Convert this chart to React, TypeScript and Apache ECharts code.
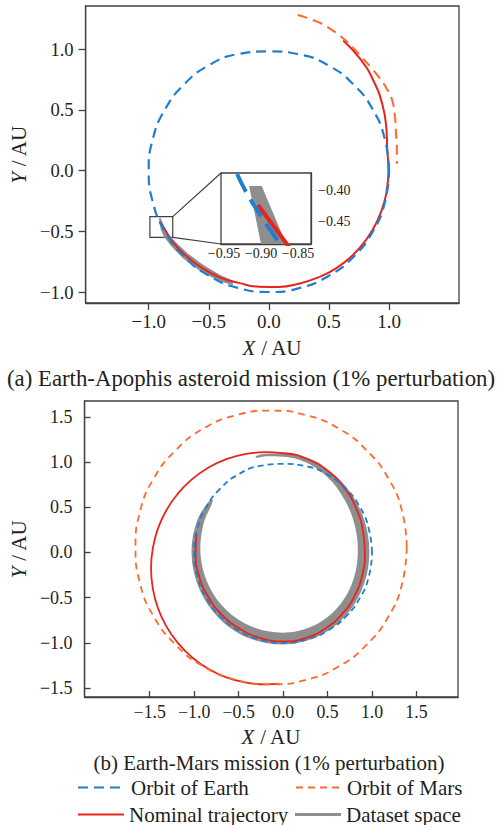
import React, { useEffect, useRef } from 'react';
import * as echarts from 'echarts';

const FONT = 'Liberation Serif, Times New Roman, serif';
const INK = '#231f20';
const FRAME = '#404040';
const BLUE = '#1f7fce';
const ORANGE = '#ff6a2a';
const RED = '#e8241c';
const GRAY = '#8e8e8e';

// Heliocentric positions in AU, counter-clockwise
const EARTH_ORBIT = [
  [1.0, 0.0], [0.965, 0.258], [0.866, 0.5], [0.707, 0.705], [0.5, 0.862], [0.258, 0.955],
  [0.0, 0.98], [-0.258, 0.958], [-0.5, 0.866], [-0.707, 0.707], [-0.866, 0.5], [-0.966, 0.259],
  [-1.0, 0.0], [-0.966, -0.259], [-0.866, -0.5], [-0.707, -0.707], [-0.5, -0.866], [-0.259, -0.966],
  [0.0, -1.0], [0.259, -0.966], [0.5, -0.866], [0.707, -0.707], [0.866, -0.5], [0.966, -0.259], [1.0, 0.0],
];

const APOPHIS_ARC = [
  [0.24, 1.28], [0.4, 1.225], [0.52, 1.16], [0.625, 1.083], [0.71, 1.0], [0.778, 0.927],
  [0.849, 0.849], [0.915, 0.768], [0.975, 0.683], [1.022, 0.59], [1.049, 0.445], [1.058, 0.3],
  [1.065, 0.169], [1.066, 0.056],
];

const NOMINAL_A = [
  [-0.904, -0.4226], [-0.865, -0.4855], [-0.8, -0.59], [-0.696, -0.696], [-0.56, -0.8], [-0.41, -0.879],
  [-0.25, -0.925], [-0.084, -0.956], [0.08, -0.958], [0.25, -0.932], [0.41, -0.88], [0.562, -0.803],
  [0.7, -0.695], [0.811, -0.568], [0.9, -0.42], [0.961, -0.258], [0.99, -0.09], [0.995, 0.0],
  [0.985, 0.174], [0.977, 0.356], [0.944, 0.545], [0.873, 0.733], [0.765, 0.912], [0.618, 1.07],
];

// Outline of the perturbed-trajectory band near departure
const DATASET_A = [
  [-0.916, -0.392], [-0.9, -0.485], [-0.872, -0.548], [-0.81, -0.625], [-0.71, -0.727], [-0.567, -0.832],
  [-0.415, -0.91], [-0.3, -0.945], [-0.3, -0.905], [-0.405, -0.86], [-0.545, -0.778], [-0.678, -0.68],
  [-0.772, -0.592], [-0.835, -0.522], [-0.866, -0.485], [-0.899, -0.392],
];

const ZOOM_BOX = [[-0.99, -0.38], [-0.8, -0.55]];

const MARS_ORBIT = [
  [1.39, 0.06], [1.34, 0.45], [1.19, 0.81], [0.94, 1.13], [0.63, 1.37], [0.26, 1.52],
  [-0.13, 1.57], [-0.53, 1.52], [-0.9, 1.37], [-1.21, 1.13], [-1.46, 0.81], [-1.61, 0.45],
  [-1.66, 0.06], [-1.61, -0.34], [-1.46, -0.7], [-1.21, -1.02], [-0.9, -1.26], [-0.53, -1.41],
  [-0.13, -1.46], [0.26, -1.41], [0.63, -1.26], [0.94, -1.02], [1.19, -0.7], [1.34, -0.34], [1.39, 0.06],
];

const NOMINAL_B = [
  [-0.973, 0.207], [-0.985, 0.0], [-0.947, -0.254], [-0.844, -0.488], [-0.689, -0.689], [-0.488, -0.844],
  [-0.254, -0.947], [0.0, -0.985], [0.254, -0.947], [0.483, -0.836], [0.672, -0.672], [0.81, -0.468],
  [0.893, -0.239], [0.92, 0.0], [0.898, 0.241], [0.827, 0.478], [0.7, 0.7], [0.515, 0.892],
  [0.277, 1.034], [0.0, 1.1], [-0.2, 1.11], [-0.423, 1.09], [-0.639, 1.033], [-0.843, 0.938],
  [-1.026, 0.809], [-1.184, 0.651], [-1.313, 0.468], [-1.408, 0.264], [-1.465, 0.048], [-1.485, -0.175],
  [-1.465, -0.398], [-1.408, -0.614], [-1.313, -0.818], [-1.184, -1.001], [-1.026, -1.159], [-0.843, -1.288],
  [-0.639, -1.383], [-0.423, -1.44], [-0.2, -1.46], [-0.045, -1.455],
];

// Band of perturbed trajectories: outer edge, then inner edge back to the start
const DATASET_B = [
  [-0.813, 0.591], [-0.968, 0.352], [-1.03, 0.0], [-0.963, -0.351], [-0.785, -0.659], [-0.513, -0.888],
  [-0.177, -1.004], [0.176, -1.0], [0.503, -0.87], [0.758, -0.636], [0.916, -0.333], [0.97, 0.0],
  [0.921, 0.335], [0.77, 0.646], [0.523, 0.905], [0.189, 1.071], [-0.193, 1.093], [-0.306, 1.067],
  [-0.3, 1.048], [-0.187, 1.064], [0.181, 1.027], [0.488, 0.844], [0.693, 0.582], [0.808, 0.294],
  [0.84, 0.0], [0.794, -0.289], [0.659, -0.553], [0.438, -0.758], [0.154, -0.872], [-0.155, -0.876],
  [-0.448, -0.775], [-0.693, -0.582], [-0.86, -0.313], [-0.93, 0.0], [-0.893, 0.325], [-0.789, 0.573],
];

const TICKS_A = [-1, -0.5, 0, 0.5, 1];
const TICKS_INSET_X = [-0.95, -0.9, -0.85];
const TICKS_INSET_Y = [-0.45, -0.4];
const TICKS_B = [-1.5, -1, -0.5, 0, 0.5, 1, 1.5];

const RANGE_A = { x: [-1.525, 1.582], y: [-1.0905, 1.354] };
const RANGE_INSET = { x: [-0.954, -0.8324], y: [-0.4855, -0.371] };
const RANGE_B = { x: [-2.233, 1.967], y: [-1.6, 1.677] };

const CAPTION_A = '(a) Earth-Apophis asteroid mission (1% perturbation)';
const CAPTION_B = '(b) Earth-Mars mission (1% perturbation)';

const fmt = (digits: number) => (v: number) => (v < 0 ? '\u2212' : '') + Math.abs(v).toFixed(digits);

const nameStyle = {
  fontFamily: FONT,
  fontSize: 21,
  color: INK,
  rich: { i: { fontFamily: FONT, fontSize: 21, fontStyle: 'italic', color: INK } },
};

function axis(
  grid: number,
  range: number[],
  ticks: number[],
  o: { inside: boolean; len: number; size: number; margin: number; digits: number; name?: string; gap?: number; position?: string }
) {
  const line = { color: FRAME, width: 1.3 };
  return {
    type: 'value',
    gridIndex: grid,
    min: range[0],
    max: range[1],
    position: o.position,
    splitLine: { show: false },
    axisLine: { show: true, onZero: false, lineStyle: line },
    axisTick: { show: true, inside: o.inside, length: o.len, customValues: ticks, lineStyle: line },
    axisLabel: {
      customValues: ticks,
      formatter: fmt(o.digits),
      fontFamily: FONT,
      fontSize: o.size,
      color: INK,
      margin: o.margin,
    },
    name: o.name,
    nameLocation: 'middle',
    nameGap: o.gap,
    nameTextStyle: nameStyle,
  };
}

function lineSeries(name: string, data: number[][], grid: number, color: string, width: number, dash: number[] | null, z: number, extra: any = {}) {
  return {
    type: 'line',
    name,
    xAxisIndex: grid,
    yAxisIndex: grid,
    data,
    smooth: 0.5,
    symbol: 'none',
    showSymbol: false,
    clip: true,
    z,
    lineStyle: { color, width, type: dash || 'solid', cap: 'butt' },
    itemStyle: { color },
    ...extra,
  };
}

function bandSeries(name: string, outline: number[][], grid: number, z: number, smooth: number) {
  return {
    type: 'custom',
    name,
    xAxisIndex: grid,
    yAxisIndex: grid,
    clip: true,
    z,
    itemStyle: { color: GRAY },
    data: [outline[0]],
    renderItem: (_p: any, api: any) => ({
      type: 'polygon',
      shape: { points: outline.map((pt) => api.coord(pt)), smooth },
      style: { fill: GRAY },
    }),
  };
}

const legendBase = {
  orient: 'horizontal',
  padding: 0,
  itemHeight: 14,
  selectedMode: false,
  textStyle: { fontFamily: FONT, fontSize: 21, color: INK },
};
const lineLegend = { ...legendBase, itemStyle: { opacity: 0 } };

export default function App() {
  const ref = useRef<HTMLDivElement>(null);

  useEffect(() => {
    if (!ref.current) return;
    const chart = echarts.init(ref.current, null, { renderer: 'svg' });

    const option: any = {
      animation: false,
      backgroundColor: '#ffffff',
      grid: [
        { left: 80, top: 6, width: 379, height: 297, show: true, borderColor: FRAME, borderWidth: 1.3, backgroundColor: 'transparent' },
        { left: 221, top: 173, width: 90, height: 71, show: true, borderColor: FRAME, borderWidth: 1.3, backgroundColor: '#ffffff', z: 5 },
        { left: 80, top: 401, width: 378, height: 296, show: true, borderColor: FRAME, borderWidth: 1.3, backgroundColor: 'transparent' },
      ],
      xAxis: [
        axis(0, RANGE_A.x, TICKS_A, { inside: false, len: 7, size: 19, margin: 9, digits: 1, name: '{i|X} / AU', gap: 34 }),
        axis(1, RANGE_INSET.x, TICKS_INSET_X, { inside: true, len: 5, size: 14, margin: 2, digits: 2 }),
        axis(2, RANGE_B.x, TICKS_B, { inside: true, len: 6, size: 17.8, margin: 6, digits: 1, name: '{i|X} / AU', gap: 29 }),
      ],
      yAxis: [
        axis(0, RANGE_A.y, TICKS_A, { inside: false, len: 7, size: 18.6, margin: 12, digits: 1, name: '{i|Y} / AU', gap: 48 }),
        axis(1, RANGE_INSET.y, TICKS_INSET_Y, { inside: true, len: 5, size: 14, margin: 7, digits: 2, position: 'right' }),
        axis(2, RANGE_B.y, TICKS_B, { inside: true, len: 6, size: 18, margin: 12, digits: 1, name: '{i|Y} / AU', gap: 48 }),
      ],
      legend: [
        { ...lineLegend, data: ['Orbit of Earth'], left: 77, top: 777, itemWidth: 48 },
        { ...lineLegend, data: ['Orbit of Mars'], left: 295, top: 777, itemWidth: 46 },
        { ...lineLegend, data: ['Nominal trajectory'], left: 77, top: 804, itemWidth: 46 },
        { ...legendBase, data: [{ name: 'Dataset space', icon: 'rect' }], left: 295, top: 804, itemWidth: 46, itemHeight: 3 },
      ],
      series: [
        // panel (a)
        bandSeries('Dataset space', DATASET_A, 0, 1, 0),
        lineSeries('Nominal trajectory', NOMINAL_A, 0, RED, 2, null, 2, {
          markArea: {
            silent: true,
            itemStyle: { color: 'rgba(0,0,0,0)', borderColor: FRAME, borderWidth: 1.2 },
            data: [[{ coord: ZOOM_BOX[0] }, { coord: ZOOM_BOX[1] }]],
          },
        }),
        lineSeries('Orbit of Earth', EARTH_ORBIT, 0, BLUE, 2.2, [10, 6], 3),
        lineSeries('Orbit of Apophis', APOPHIS_ARC, 0, ORANGE, 2, [10, 6], 4),
        // zoomed inset of the departure point
        bandSeries('Dataset space', DATASET_A, 1, 6, 0),
        lineSeries('Nominal trajectory', NOMINAL_A, 1, RED, 4, null, 7),
        lineSeries('Orbit of Earth', EARTH_ORBIT, 1, BLUE, 4, [20, 9], 8),
        // panel (b)
        bandSeries('Dataset space', DATASET_B, 2, 1, 0.35),
        lineSeries('Nominal trajectory', NOMINAL_B, 2, RED, 1.8, null, 2),
        lineSeries('Orbit of Earth', EARTH_ORBIT, 2, BLUE, 1.8, [6, 4], 3),
        lineSeries('Orbit of Mars', MARS_ORBIT, 2, ORANGE, 1.8, [7, 5], 4),
      ],
    };
    chart.setOption(option);

    // zoom-box connectors and captions
    const boxTop = chart.convertToPixel({ gridIndex: 0 }, [ZOOM_BOX[1][0], ZOOM_BOX[0][1]]) as number[];
    const boxBot = chart.convertToPixel({ gridIndex: 0 }, [ZOOM_BOX[1][0], ZOOM_BOX[1][1]]) as number[];
    const insTop = chart.convertToPixel({ gridIndex: 1 }, [RANGE_INSET.x[0], RANGE_INSET.y[1]]) as number[];
    const insBot = chart.convertToPixel({ gridIndex: 1 }, [RANGE_INSET.x[0], RANGE_INSET.y[0]]) as number[];
    const connector = (a: number[], b: number[], id: string) => ({
      id,
      type: 'line',
      silent: true,
      z: 10,
      shape: { x1: a[0], y1: a[1], x2: b[0], y2: b[1] },
      style: { stroke: FRAME, lineWidth: 1.2 },
    });
    const caption = (text: string, x: number, y: number, size: number, id: string) => ({
      id,
      type: 'text',
      silent: true,
      x,
      y,
      style: {
        text,
        fill: INK,
        fontFamily: FONT,
        fontSize: size,
        align: 'center',
        textAlign: 'center',
        verticalAlign: 'middle',
        textVerticalAlign: 'middle',
      },
    });
    chart.setOption({
      graphic: [
        connector(boxTop, insTop, 'c1'),
        connector(boxBot, insBot, 'c2'),
        caption(CAPTION_A, 251, 378, 22.8, 't1'),
        caption(CAPTION_B, 269, 763, 21, 't2'),
      ],
    });

    return () => chart.dispose();
  }, []);

  return (
    <div
      ref={ref}
      style={{ position: 'absolute', left: 0, top: 0, width: 500, height: 825, background: '#fff' }}
    />
  );
}
